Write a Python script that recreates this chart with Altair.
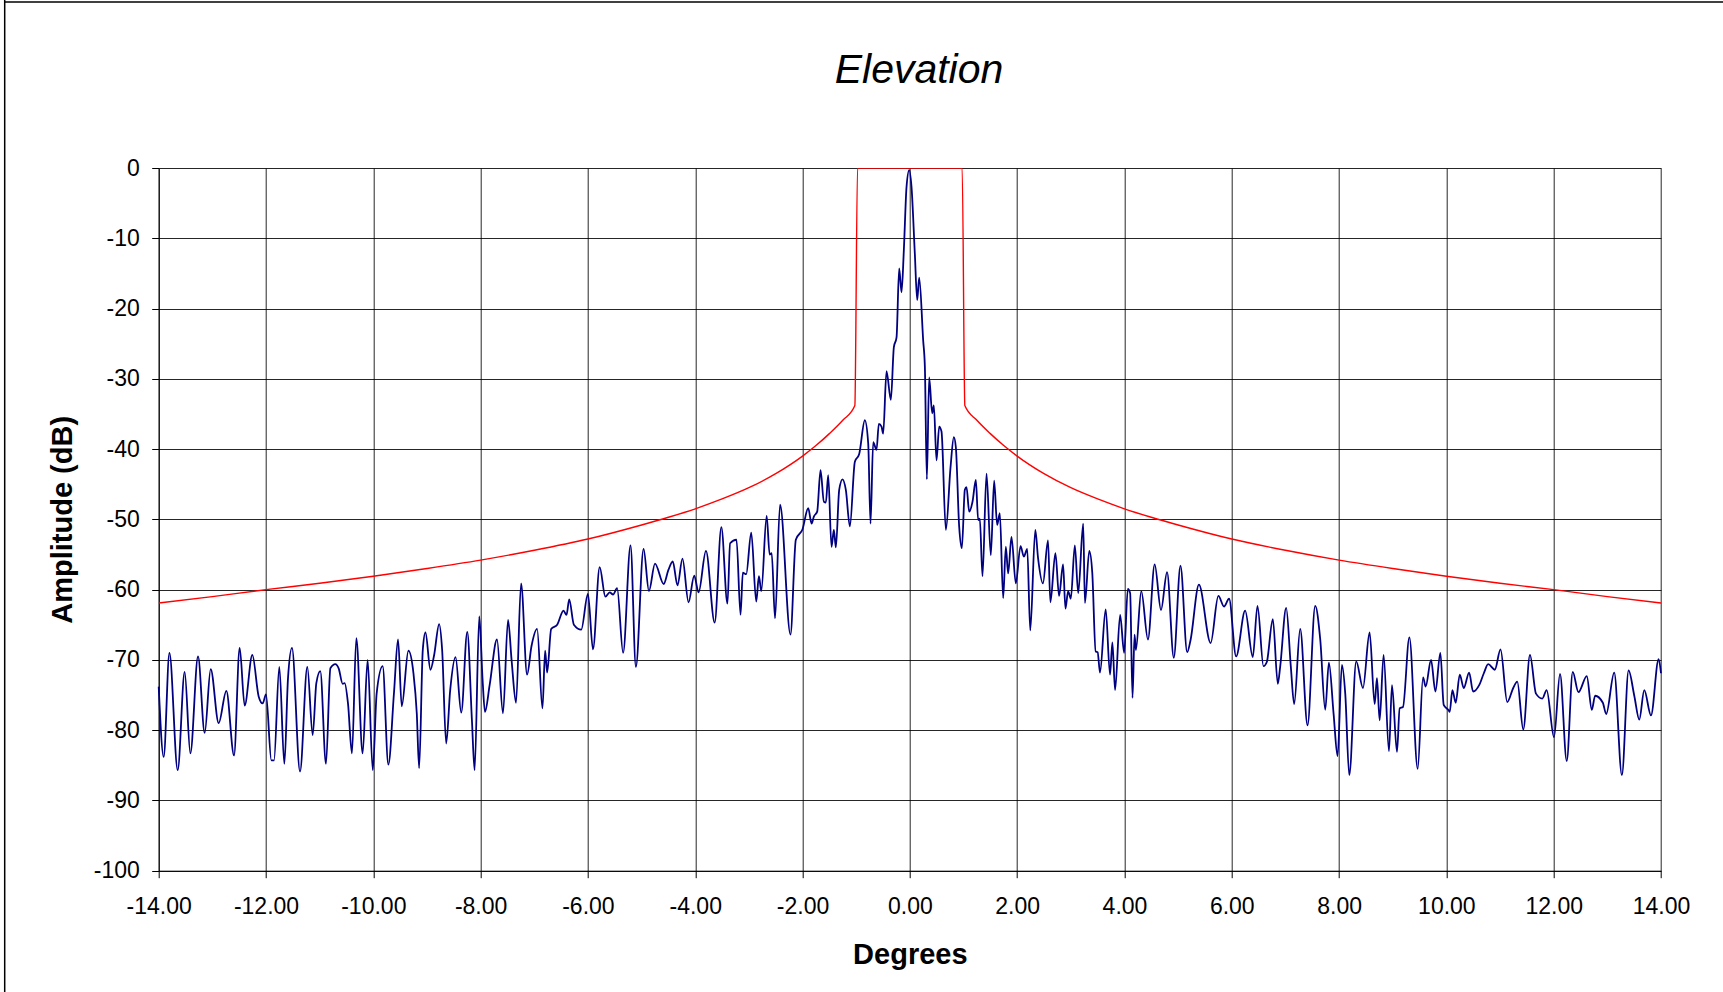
import altair as alt
import pandas as pd

# Measured antenna pattern (blue), degrees / dB
angle = [
    -14.00, -13.907, -13.80, -13.646, -13.516, -13.41, -13.267, -13.143, -13.031, -12.882,
    -12.739, -12.596, -12.491, -12.398, -12.255, -12.137, -12.062, -12.0, -11.90, -11.851,
    -11.752, -11.658, -11.59, -11.516, -11.366, -11.23, -11.13, -11.062, -10.988, -10.882,
    -10.80, -10.708, -10.646, -10.571, -10.534, -10.472, -10.398, -10.317, -10.199, -10.106,
    -10.01,
    -9.938, -9.826, -9.72, -9.614, -9.539, -9.47, -9.346, -9.252, -9.19, -9.146,
    -9.078, -9.028, -8.935, -8.866, -8.773, -8.717, -8.642, -8.567, -8.467, -8.361,
    -8.249, -8.162, -8.112, -8.025, -7.963, -7.919, -7.832, -7.695, -7.583, -7.489,
    -7.421, -7.34, -7.246, -7.134, -7.053, -6.947, -6.847, -6.798, -6.76, -6.685,
    -6.573, -6.455, -6.399, -6.349, -6.262, -6.125, -6.0,
    -5.906, -5.781, -5.675, -5.594, -5.531, -5.456, -5.344, -5.206, -5.106, -4.963,
    -4.863, -4.75, -4.588, -4.5, -4.419, -4.331, -4.238, -4.125, -4.019, -3.938,
    -3.8, -3.638, -3.513, -3.4, -3.35, -3.231, -3.156, -3.113, -3.05, -2.956,
    -2.863, -2.813, -2.769, -2.669, -2.613, -2.575, -2.513, -2.419, -2.225, -2.125,
    -2.0,
    -1.894, -1.832, -1.789, -1.727, -1.665, -1.602, -1.565, -1.522, -1.46, -1.416,
    -1.379, -1.317, -1.255, -1.193, -1.118, -1.025, -0.944, -0.839, -0.776, -0.733,
    -0.683, -0.621, -0.578, -0.528, -0.497, -0.435, -0.354, -0.298, -0.248, -0.199,
    -0.155, -0.112, -0.062, -0.012, 0.031, 0.093, 0.137, 0.174, 0.248, 0.28,
    0.317, 0.36, 0.416, 0.447, 0.497, 0.547, 0.59, 0.671, 0.758, 0.82,
    0.857, 0.919, 0.969, 1.025, 1.056, 1.106, 1.168, 1.23, 1.273, 1.304,
    1.354, 1.429, 1.509, 1.571, 1.627, 1.677, 1.739, 1.789, 1.832, 1.894,
    1.975,
    2.063, 2.125, 2.188, 2.244, 2.338, 2.388, 2.481, 2.575, 2.619, 2.713,
    2.781, 2.856, 2.9, 2.95, 3.0, 3.075, 3.138, 3.231, 3.263, 3.344,
    3.4, 3.463, 3.5, 3.544, 3.65, 3.731, 3.775, 3.825, 3.919, 3.994,
    4.063, 4.106, 4.15, 4.188, 4.213, 4.313, 4.438, 4.563, 4.681, 4.794,
    4.919, 5.044, 5.169, 5.231, 5.388, 5.606, 5.75, 5.856, 5.95,
    6.081, 6.249, 6.392, 6.479, 6.591, 6.653, 6.765, 6.858, 6.902, 7.014,
    7.101, 7.163, 7.275, 7.412, 7.555, 7.649, 7.742, 7.81, 7.897, 7.972,
    8.053, 8.115, 8.19, 8.32, 8.445, 8.569, 8.663, 8.706, 8.756, 8.83,
    8.93, 8.986, 9.079, 9.129, 9.191, 9.31, 9.465, 9.565, 9.614, 9.714,
    9.795, 9.888, 9.95, 10.044,
    10.062, 10.112, 10.174, 10.249, 10.324, 10.424, 10.498, 10.611, 10.698, 10.779,
    10.903, 11.009, 11.134, 11.246, 11.321, 11.433, 11.558, 11.67, 11.788, 11.869,
    12.006, 12.118, 12.243, 12.355, 12.461, 12.617, 12.71, 12.773, 12.916, 12.978,
    13.128, 13.271, 13.396, 13.502, 13.595, 13.688, 13.813, 13.956, 14.0,
]
amplitude = [
    -73.8, -83.8, -69.0, -85.7, -71.7, -83.3, -69.5, -80.4, -71.3, -79.0,
    -74.4, -83.6, -68.3, -76.5, -69.3, -75.2, -76.2, -74.9, -84.3, -84.3,
    -71.0, -84.8, -72.6, -68.3, -85.9, -71.0, -80.7, -73.3, -71.6, -84.8,
    -71.2, -70.6, -71.2, -73.4, -73.3, -76.2, -83.3, -66.9, -83.3, -70.0,
    -85.7,
    -74.8, -70.9, -84.9, -74.6, -67.1, -76.6, -68.7, -71.9, -77.6, -85.4,
    -68.6, -66.1, -71.4, -69.3, -64.9, -68.6, -81.9, -74.3, -69.6, -77.5,
    -66.0, -78.6, -85.7, -63.8, -72.9, -77.4, -73.6, -67.1, -77.6, -64.3,
    -70.2, -76.1, -59.1, -72.1, -68.1, -65.6, -76.9, -68.7, -71.8, -65.6,
    -65.0, -63.0, -63.6, -61.4, -65.0, -65.7, -60.6,
    -68.5, -56.8, -61.0, -60.4, -60.7, -59.8, -69.0, -53.7, -71.0, -54.2,
    -60.2, -56.3, -59.2, -57.2, -56.0, -59.4, -55.6, -61.8, -58.0, -60.4,
    -54.5, -64.7, -51.1, -62.0, -53.4, -52.9, -63.6, -57.6, -57.8, -51.9,
    -61.7, -58.1, -60.2, -49.5, -55.0, -54.8, -64.1, -47.9, -66.4, -52.9,
    -51.4,
    -48.4, -50.6, -49.6, -48.9, -43.0, -47.5, -47.6, -43.7, -53.9, -51.5,
    -54.0, -45.8, -44.3, -45.8, -51.0, -41.8, -40.7, -35.9, -39.2, -50.6,
    -39.0, -40.1, -36.4, -36.8, -37.8, -28.9, -33.0, -25.5, -24.1, -14.3,
    -17.7, -11.7, -2.7, -0.3, -2.7, -12.2, -18.8, -15.6, -24.5, -28.3,
    -44.3, -29.8, -34.9, -33.8, -41.6, -36.8, -37.5, -51.5, -42.6, -38.3,
    -39.7, -51.0, -54.1, -45.8, -45.4, -48.9, -47.5, -44.4, -50.1, -49.9,
    -58.1, -43.5, -55.1, -44.5, -50.8, -49.1, -61.2, -53.9, -57.7, -52.5,
    -59.1,
    -53.8, -55.3, -54.2, -65.8, -51.5, -55.4, -59.1, -53.0, -61.8, -54.8,
    -60.9, -56.4, -62.7, -60.2, -61.3, -53.7, -60.5, -50.6, -61.9, -54.5,
    -57.6, -68.8, -68.9, -71.8, -62.8, -72.1, -67.5, -74.3, -63.6, -69.0,
    -59.9, -60.5, -75.4, -66.4, -68.6, -60.2, -67.1, -56.4, -62.9, -57.5,
    -69.7, -56.6, -68.9, -67.2, -59.3, -67.6, -60.9, -62.4, -61.3,
    -69.5, -63.0, -69.6, -62.3, -70.9, -70.3, -64.2, -73.4, -71.0, -62.6,
    -71.0, -76.3, -65.6, -79.3, -62.3, -67.1, -77.1, -70.4, -77.6, -83.7,
    -70.7, -74.8, -86.4, -70.2, -74.0, -66.1, -76.3, -72.6, -78.6, -69.3,
    -83.0, -73.6, -83.1, -76.9, -76.7, -66.8, -85.5, -72.5, -73.8, -70.0,
    -74.5, -69.0, -76.4, -77.2,
    -77.4, -74.3, -76.1, -72.1, -74.0, -71.8, -74.5, -73.6, -71.9, -70.6,
    -71.4, -68.5, -76.0, -74.0, -73.1, -79.9, -69.3, -74.8, -75.5, -74.3,
    -81.0, -72.0, -84.4, -71.7, -74.6, -72.3, -77.1, -75.1, -76.1, -77.7,
    -71.8, -86.4, -71.5, -75.1, -78.5, -74.3, -77.9, -69.9, -71.9,
]

# Sidelobe mask (red)
mask_angle = [-14, -13, -12, -11, -10, -9, -8, -7, -6, -5, -4.5, -4, -3.5, -3, -2.5,
              -2, -1.75, -1.5, -1.25, -1.025, -0.975, 0.975, 1.025, 1.25, 1.5, 1.75,
              2, 2.5, 3, 3.5, 4, 4.5, 5, 6, 7, 8, 9, 10, 11, 12, 13, 14]
mask_level = [-61.9, -61.0, -60.0, -59.1, -58.1, -57.0, -55.8, -54.4, -52.8, -50.8,
              -49.7, -48.5, -47.1, -45.5, -43.5, -41.0, -39.5, -37.8, -35.9, -33.8,
              0, 0, -33.8, -35.9, -37.8, -39.5, -41.0, -43.5, -45.5, -47.1, -48.5,
              -49.7, -50.8, -52.8, -54.4, -55.8, -57.0, -58.1, -59.1, -60.0, -61.0, -61.9]

x_ticks = list(range(-14, 15, 2))
y_ticks = list(range(-100, 1, 10))
chart_title = ["Elevation"]

FONT = "Liberation Sans"
W, H = 1502.3, 702.7

pattern = pd.DataFrame({"deg": angle, "db": amplitude})
mask = pd.DataFrame({"deg": mask_angle, "db": mask_level})
title_df = pd.DataFrame({"t": chart_title})

xscale = alt.Scale(domain=[-14, 14], nice=False, zero=False)
yscale = alt.Scale(domain=[-100, 0], nice=False, zero=False)

xaxis = alt.Axis(
    values=x_ticks, title="Degrees",
    labelExpr="(datum.value < 0 ? '-' : '') + format(abs(datum.value), '.2f')",
    grid=True, gridColor="#000000", gridWidth=1, gridOpacity=0.85,
    domainColor="#000000", domainWidth=1, tickColor="#000000", tickSize=7, tickWidth=1,
    labelFont=FONT, labelFontSize=23, labelColor="#000000", labelPadding=35.6,
    labelBaseline="alphabetic", labelFlush=False, labelOverlap=False,
    titleFont=FONT, titleFontSize=29, titleFontWeight="bold", titleColor="#000000",
    titleY=92.3, titleBaseline="alphabetic",
)
yaxis = alt.Axis(
    values=y_ticks, title="Amplitude (dB)",
    labelExpr="(datum.value < 0 ? '-' : '') + format(abs(datum.value), 'd')",
    grid=True, gridColor="#000000", gridWidth=1, gridOpacity=0.85,
    domainColor="#000000", domainWidth=1, tickColor="#000000", tickSize=7, tickWidth=1,
    labelFont=FONT, labelFontSize=23, labelColor="#000000", labelPadding=12.4,
    labelFlush=False, labelOverlap=False,
    titleFont=FONT, titleFontSize=29, titleFontWeight="bold", titleColor="#000000",
    titleAngle=270, titleX=-96, titleY=H / 2, titleAlign="center", titleBaseline="middle",
)

blue = alt.Chart(pattern).mark_line(color="#000080", strokeWidth=1.8, interpolate="monotone").encode(
    x=alt.X("deg:Q", scale=xscale, axis=xaxis),
    y=alt.Y("db:Q", scale=yscale, axis=yaxis),
)
red = alt.Chart(mask).mark_line(color="#FF0000", strokeWidth=1.4, interpolate="monotone", clip=True).encode(
    x=alt.X("deg:Q", scale=xscale),
    y=alt.Y("db:Q", scale=yscale),
)

title_mark = alt.Chart(title_df).mark_text(
    font=FONT, fontSize=41, fontStyle="italic", color="#000000",
    align="center", baseline="alphabetic",
).encode(x=alt.value(760.3), y=alt.value(-85.3), text="t:N")

frame_df = pd.DataFrame({"k": [0]})
left_frame = alt.Chart(frame_df).mark_rule(color="#000000", strokeWidth=1.5).encode(
    x=alt.value(-154), y=alt.value(-168), y2=alt.value(830)
)
top_frame = alt.Chart(frame_df).mark_rule(color="#000000", strokeWidth=1.5).encode(
    y=alt.value(-166), x=alt.value(-154), x2=alt.value(1570)
)

chart = alt.layer(red, blue, title_mark, left_frame, top_frame).properties(
    width=W, height=H,
    autosize=alt.AutoSizeParams(type="none"),
    padding={"left": 158.7, "top": 168, "right": 62, "bottom": 121.3},
    background="white",
).configure_view(stroke=None)

chart.save("out.html", embed_options={"renderer": "svg", "actions": False})
